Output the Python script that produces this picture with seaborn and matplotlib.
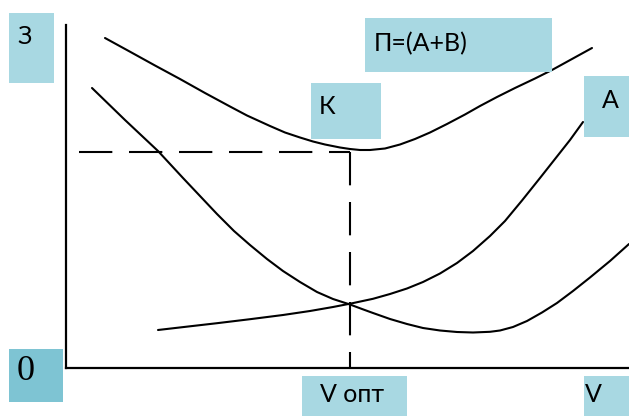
import numpy as np
import pandas as pd
import matplotlib
matplotlib.use("Agg")
import matplotlib.pyplot as plt
from matplotlib.patches import Rectangle
import seaborn as sns

W, H = 629, 416
X0, Y0 = 66, 368   # axes corner in the picture

# curve points, in picture pixels
p_px = [105, 130, 155, 180, 205, 230, 247, 270, 285, 300, 313, 325, 340, 350, 360, 370,
        385, 400, 415, 430, 447, 465, 480, 497, 515, 535, 552, 572, 592]
p_py = [38, 51.7, 65.5, 79, 93, 106.5, 115.5, 126, 132.5, 137.5, 141.5, 144.5, 147.5,
        149, 150, 150, 148.5, 144.5, 139, 132.5, 124, 114.5, 106, 97, 88, 78.5, 70, 59, 48]

b_px = [92, 125, 158, 183, 200, 217, 234, 250, 267, 283, 300, 317, 333, 350, 362, 373,
        390, 407, 423, 440, 457, 473, 490, 500, 513, 527, 542, 557, 573, 590, 610, 629]
b_py = [88, 120, 151, 178, 196, 214, 231, 245, 259, 271, 282, 292, 299, 304.5, 309, 313,
        319, 324, 328, 330.5, 332, 332.5, 331.8, 330.5, 327, 321, 312.5, 303, 291, 277.5,
        261, 244]

a_px = [158, 190, 217, 250, 283, 310, 333, 352, 373, 390, 407, 423, 440, 457, 473, 490,
        505, 522, 540, 555, 570, 583]
a_py = [330, 326.3, 323.2, 319.2, 315, 311, 307, 303.3, 298.8, 294, 288.5, 282, 273.5,
        263, 251, 236, 221, 200.5, 178, 159, 140, 122]

# optimum point and start of the horizontal guide
v_opt_px, z_min_px = 350, 152
dash_start_px = 79

light_blue = '#a8d8e2'
dark_blue = '#7ec4d3'

sns.set_style("white")
plt.rcParams['font.family'] = ['Lato', 'DejaVu Sans']

fig = plt.figure(figsize=(W / 100, H / 100), dpi=100)
ax = fig.add_axes([X0 / W, (H - Y0) / H, (W - X0) / W, (Y0 - 25) / H])


def to_data(px, py):
    return [x - X0 for x in px], [Y0 - y for y in py]


rows = []
for name, px, py in [('П', p_px, p_py), ('В', b_px, b_py), ('А', a_px, a_py)]:
    v, z = to_data(px, py)
    rows.append(pd.DataFrame({'v': v, 'z': z, 'curve': name}))
curves = pd.concat(rows)

sns.lineplot(data=curves, x='v', y='z', units='curve', estimator=None, sort=False,
             color='black', lw=1.5, ax=ax, legend=False)

# dashed guides to the optimum
v_opt, z_min = v_opt_px - X0, Y0 - z_min_px
ax.plot([dash_start_px - X0, v_opt], [z_min, z_min], color='black', lw=1.5, dashes=(16, 8))
ax.plot([v_opt, v_opt], [z_min, 0], color='black', lw=1.5, dashes=(16, 8))

ax.set_xlim(0, W - X0)
ax.set_ylim(0, Y0 - 25)
ax.set_xticks([])
ax.set_yticks([])
ax.set_xlabel('')
ax.set_ylabel('')
sns.despine(ax=ax)
for s in ['left', 'bottom']:
    ax.spines[s].set_color('black')
    ax.spines[s].set_linewidth(1.6)


def label(box, text, tx, ty, color=light_blue, **kw):
    x0, y0, x1, y1 = box
    fig.add_artist(Rectangle((x0 / W, 1 - y1 / H), (x1 - x0) / W, (y1 - y0) / H,
                             transform=fig.transFigure, facecolor=color,
                             edgecolor='none', zorder=3))
    fig.text(tx / W, 1 - ty / H, text, ha='left', va='center', color='black',
             zorder=4, **kw)


label((9, 13, 54, 83), 'З', 17, 37, fontsize=18)
label((9, 349, 63, 402), '0', 17, 372, color=dark_blue, fontsize=26,
      family='Liberation Serif')
label((365, 18, 552, 72), 'П=(А+В)', 374, 44, fontsize=18)
label((311, 83, 381, 139), 'К', 319, 107, fontsize=18)
label((584, 76, 629, 137), 'А', 602, 101, fontsize=18)
label((302, 376, 407, 416), 'V опт', 320, 395, fontsize=18)
label((584, 376, 629, 416), 'V', 585, 395, fontsize=18)

fig.savefig('out.png', dpi=100)
